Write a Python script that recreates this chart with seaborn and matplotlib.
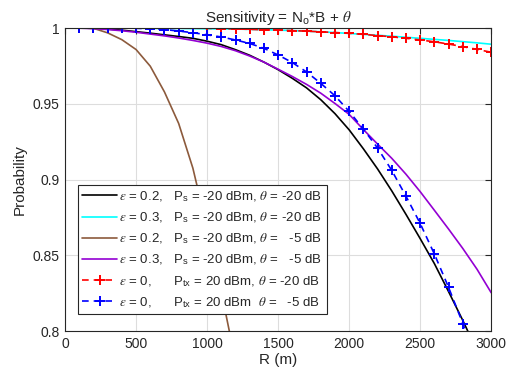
# Sensitivity vs range plot
import numpy as np
import pandas as pd
import matplotlib
matplotlib.use("Agg")
import matplotlib.pyplot as plt
import seaborn as sns

# Range (m), one point every 100 m
R = list(range(0, 3100, 100))

# eps = 0.2, Ps = -20 dBm, theta = -20 dB
p_black = [1.0, 1.0, 0.9998, 0.9993, 0.9986, 0.9976, 0.9966, 0.9955, 0.9944, 0.9932,
           0.9913, 0.9890, 0.9857, 0.9820, 0.9775, 0.9725, 0.9668, 0.9605, 0.9527, 0.9435,
           0.9328, 0.9203, 0.9070, 0.8925, 0.8770, 0.8610, 0.8445, 0.8260, 0.8070, 0.7870,
           0.7660]
# eps = 0.3, Ps = -20 dBm, theta = -20 dB
p_cyan = [1.0, 1.0, 1.0, 1.0, 0.9999, 0.9999, 0.9998, 0.9997, 0.9997, 0.9996,
          0.9995, 0.9994, 0.9993, 0.9991, 0.9989, 0.9986, 0.9983, 0.9979, 0.9975, 0.9970,
          0.9964, 0.9958, 0.9952, 0.9946, 0.9939, 0.9932, 0.9925, 0.9918, 0.9910, 0.9902,
          0.9893]
# eps = 0.2, Ps = -20 dBm, theta = -5 dB
R_brown = R[:13]
p_brown = [1.0, 1.0, 0.9998, 0.9968, 0.9923, 0.9858, 0.9748, 0.9578, 0.9370, 0.9075,
           0.8680, 0.8260, 0.7800]
# eps = 0.3, Ps = -20 dBm, theta = -5 dB
p_purple = [1.0, 0.9999, 0.9996, 0.9990, 0.9982, 0.9972, 0.9960, 0.9948, 0.9934, 0.9918,
            0.9900, 0.9878, 0.9850, 0.9815, 0.9775, 0.9728, 0.9680, 0.9628, 0.9570, 0.9502,
            0.9430, 0.9330, 0.9234, 0.9140, 0.9035, 0.8920, 0.8797, 0.8673, 0.8545, 0.8408,
            0.8253]
# eps = 0, Ptx = 20 dBm, theta = -20 dB
p_red = [1.0, 1.0, 1.0, 1.0, 1.0, 1.0, 1.0, 1.0, 1.0, 0.9999,
         0.9998, 0.9996, 0.9994, 0.9991, 0.9988, 0.9986, 0.9983, 0.9979, 0.9975, 0.9970,
         0.9965, 0.9958, 0.9950, 0.9942, 0.9932, 0.9921, 0.9909, 0.9894, 0.9877, 0.9859,
         0.9840]
# eps = 0, Ptx = 20 dBm, theta = -5 dB
p_blue = [1.0, 1.0, 1.0, 1.0, 1.0, 0.9998, 0.9995, 0.9990, 0.9980, 0.9969,
          0.9955, 0.9941, 0.9921, 0.9898, 0.9866, 0.9822, 0.9772, 0.9710, 0.9635, 0.9553,
          0.9450, 0.9333, 0.9208, 0.9060, 0.8890, 0.8710, 0.8508, 0.8288, 0.8050, 0.7800,
          0.7540]

labels = [
    r"$\epsilon$ = 0.2,   P$_\mathregular{s}$ = -20 dBm, $\theta$ = -20 dB",
    r"$\epsilon$ = 0.3,   P$_\mathregular{s}$ = -20 dBm, $\theta$ = -20 dB",
    r"$\epsilon$ = 0.2,   P$_\mathregular{s}$ = -20 dBm, $\theta$ =   -5 dB",
    r"$\epsilon$ = 0.3,   P$_\mathregular{s}$ = -20 dBm, $\theta$ =   -5 dB",
    r"$\epsilon$ = 0,      P$_\mathregular{tx}$ = 20 dBm, $\theta$ = -20 dB",
    r"$\epsilon$ = 0,      P$_\mathregular{tx}$ = 20 dBm  $\theta$ =   -5 dB",
]

sns.set_style("whitegrid")
plt.rcParams["font.family"] = ["Liberation Sans", "DejaVu Sans"]
plt.rcParams["mathtext.fontset"] = "stix"

fig = plt.figure(figsize=(5.16, 3.81), dpi=100)
ax = fig.add_axes([0.126, 0.131, 0.826, 0.7955])

sns.lineplot(x=R, y=p_black, color="black", linewidth=1.2, label=labels[0], ax=ax)
sns.lineplot(x=R, y=p_cyan, color="#00ffff", linewidth=1.2, label=labels[1], ax=ax)
sns.lineplot(x=R_brown, y=p_brown, color="#8c5a3c", linewidth=1.2, label=labels[2], ax=ax)
sns.lineplot(x=R, y=p_purple, color="#9400d3", linewidth=1.2, label=labels[3], ax=ax)
sns.lineplot(x=R, y=p_red, color="red", linewidth=1.2, linestyle=(0, (4, 3)), marker="+",
             markersize=6.5, markeredgewidth=1.4, markeredgecolor="red",
             label=labels[4], ax=ax)
sns.lineplot(x=R, y=p_blue, color="blue", linewidth=1.2, linestyle=(0, (4, 3)), marker="+",
             markersize=6.5, markeredgewidth=1.4, markeredgecolor="blue",
             label=labels[5], ax=ax)

ax.set_xlim(0, 3000)
ax.set_ylim(0.8, 1.0)
ax.set_xticks([0, 500, 1000, 1500, 2000, 2500, 3000])
ax.set_yticks([0.8, 0.85, 0.9, 0.95, 1.0])
ax.set_yticklabels(["0.8", "0.85", "0.9", "0.95", "1"])
ax.grid(True, color="#dddddd", linewidth=0.8)
ax.tick_params(direction="in", length=4, width=0.8, top=True, right=True,
               labelsize=10, colors="#262626", pad=4)
for s in ax.spines.values():
    s.set_visible(True)
    s.set_color("#262626")
    s.set_linewidth(0.8)

ax.set_xlabel("R (m)", fontsize=11, labelpad=2)
ax.set_ylabel("Probability", fontsize=11, labelpad=4)
ax.set_title(r"Sensitivity = N$_\mathregular{o}$*B + $\theta$", fontsize=11, pad=4)

leg = ax.legend(loc="lower left", bbox_to_anchor=(0.03, 0.055), fontsize=9.5,
                frameon=True, fancybox=False, framealpha=1, edgecolor="#262626",
                handlelength=2.6, handletextpad=0.2, labelspacing=0.5,
                borderpad=0.35, borderaxespad=0)
leg.get_frame().set_linewidth(0.8)

fig.savefig("out.png", dpi=100)
